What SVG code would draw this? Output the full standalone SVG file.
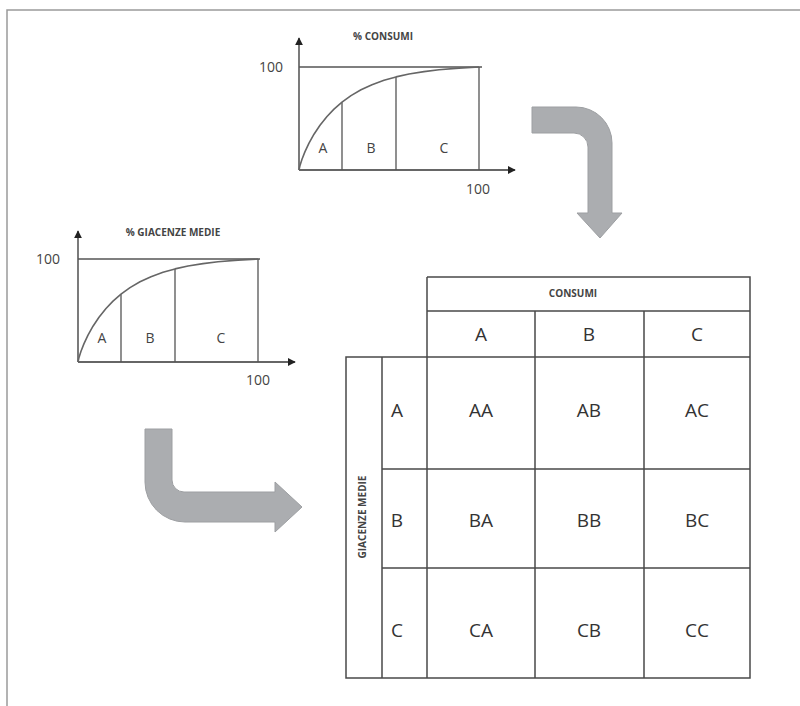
<svg xmlns="http://www.w3.org/2000/svg" width="800" height="706" viewBox="0 0 800 706">
  <defs>
    <marker id="axisHead" viewBox="0 0 10 10" refX="9" refY="5" markerWidth="8" markerHeight="8" markerUnits="userSpaceOnUse" orient="auto">
      <path d="M0,0 L10,5 L0,10 Z" fill="#222"/>
    </marker>
    <!-- cumulative ABC curve, local coordinates: origin at the axes, 180 wide, 103 high -->
    <path id="abcCurve" d="M0,0 L1,-4.6 L3,-10.8 L6,-18.4 L10,-26.9 L15,-35.8 L21,-44.8 L28,-53.5 L35,-60.9 L43,-67.8 L52,-74.4 L62,-80.2 L73,-85.3 L85,-89.7 L97,-93.1 L110,-96 L125,-98.4 L140,-100.3 L160,-101.9 L180,-103"/>
    <style>
      .frame { fill: none; stroke: #9a9a9a; stroke-width: 1.5; }
      .axis { fill: none; stroke: #333; stroke-width: 1.3; marker-end: url(#axisHead); }
      .grid { fill: none; stroke: #555; stroke-width: 1.3; }
      .curve { fill: none; stroke: #666; stroke-width: 1.6; stroke-linejoin: round; }
      .lbl { font-family: "Open Sans", "Liberation Sans", sans-serif; font-size: 14px; fill: #444; text-anchor: middle; }
      .num { font-family: "Open Sans", "Liberation Sans", sans-serif; font-size: 14px; fill: #444; }
      .title { font-family: "Open Sans", "Liberation Sans", sans-serif; font-size: 10px; font-weight: bold; fill: #444; text-anchor: middle; }
      .bigArrow { fill: #abadb0; stroke: #9d9fa2; stroke-width: 1; }
      .cellLine { fill: none; stroke: #4a4a4a; stroke-width: 1.5; }
      .cell { font-family: "Open Sans", "Liberation Sans", sans-serif; font-size: 19px; fill: #333; text-anchor: middle; dominant-baseline: central; }
    </style>
  </defs>

  <!-- page frame (top and left edges) -->
  <path class="frame" d="M800,10 H7 V706"/>

  <!-- ABC curve: % consumi -->
  <g id="chart-consumi" transform="translate(299,170)">
    <line class="axis" x1="0" y1="0" x2="0" y2="-132"/>
    <line class="axis" x1="0" y1="0" x2="216" y2="0"/>
    <path class="grid" d="M0,-103 H183 M180,-103 V0 M43,-67.8 V0 M97,-93.1 V0"/>
    <use href="#abcCurve" class="curve"/>
    <text class="num" x="-16" y="-98" text-anchor="end">100</text>
    <text class="num" x="179" y="24" text-anchor="middle">100</text>
    <text class="lbl" x="24" y="-17">A</text>
    <text class="lbl" x="72" y="-17">B</text>
    <text class="lbl" x="145" y="-17">C</text>
    <text class="title" x="84" y="-130">% CONSUMI</text>
  </g>

  <!-- ABC curve: % giacenze medie -->
  <g id="chart-giacenze" transform="translate(78,362)">
    <line class="axis" x1="0" y1="0" x2="0" y2="-131"/>
    <line class="axis" x1="0" y1="0" x2="217" y2="0"/>
    <path class="grid" d="M0,-103 H182 M180,-103 V0 M43,-67.8 V0 M97,-93.1 V0"/>
    <use href="#abcCurve" class="curve"/>
    <text class="num" x="-18" y="-98" text-anchor="end">100</text>
    <text class="num" x="180" y="23" text-anchor="middle">100</text>
    <text class="lbl" x="24" y="-19">A</text>
    <text class="lbl" x="72" y="-19">B</text>
    <text class="lbl" x="143" y="-19">C</text>
    <text class="title" x="95" y="-126">% GIACENZE MEDIE</text>
  </g>

  <!-- bent block arrows -->
  <g id="arrow-down">
    <path class="bigArrow" d="M532,107 H576 A36,36 0 0 1 612,143 V213 H622 L600,238 L577,213 H588 V147 A14,14 0 0 0 574,133 H532 Z"/>
  </g>
  <g id="arrow-right">
    <path class="bigArrow" d="M145,429 H172 V480 A12,12 0 0 0 184,492 H275 V482 L302,507 L275,532 V522 H185 A40,40 0 0 1 145,482 Z"/>
  </g>

  <!-- cross-classification matrix -->
  <g id="matrix">
    <path class="cellLine" d="M427,277 H750 V678 H346 V357 H750 M427,311 H750 M427,277 V678 M535,311 V678 M644,311 V678 M382,357 V678 M382,469 H750 M382,568 H750"/>
    <text class="title" x="573" y="297">CONSUMI</text>
    <text class="title" transform="translate(366,517) rotate(-90)">GIACENZE MEDIE</text>

    <text class="cell" x="481" y="334">A</text>
    <text class="cell" x="589" y="334">B</text>
    <text class="cell" x="697" y="334">C</text>

    <text class="cell" x="397" y="410">A</text>
    <text class="cell" x="397" y="520">B</text>
    <text class="cell" x="397" y="630">C</text>

    <text class="cell" x="481" y="410">AA</text>
    <text class="cell" x="589" y="410">AB</text>
    <text class="cell" x="697" y="410">AC</text>
    <text class="cell" x="481" y="520">BA</text>
    <text class="cell" x="589" y="520">BB</text>
    <text class="cell" x="697" y="520">BC</text>
    <text class="cell" x="481" y="630">CA</text>
    <text class="cell" x="589" y="630">CB</text>
    <text class="cell" x="697" y="630">CC</text>
  </g>
</svg>
